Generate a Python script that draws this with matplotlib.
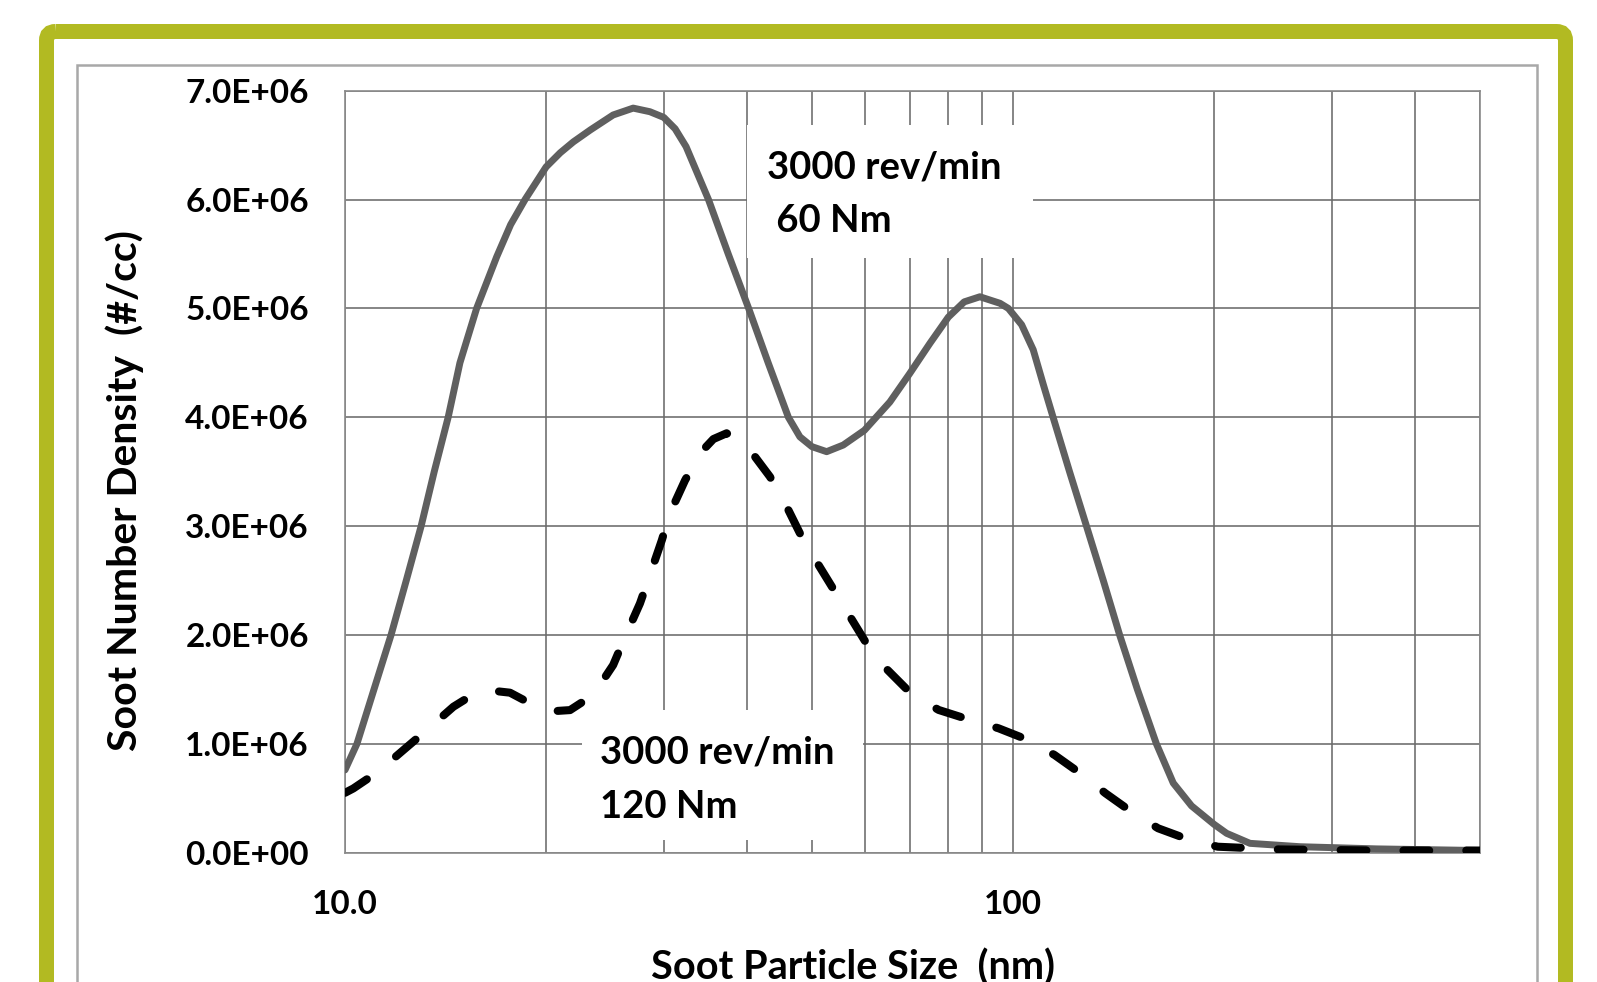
import matplotlib
matplotlib.use("Agg")
import matplotlib.pyplot as plt
from matplotlib.patches import FancyBboxPatch, Rectangle
from matplotlib.ticker import FixedLocator, NullFormatter

plt.rcParams['font.family'] = ['Lato', 'DejaVu Sans']

# particle size (nm) and soot number density (x1e6 #/cc)
size_60nm = [10.0, 10.42, 11.05, 11.72, 12.35, 13.0, 13.6, 14.27, 14.86, 15.74,
             16.87, 17.7, 18.6, 20.0, 21.0, 21.97, 23.3, 25.2, 27.0, 28.6,
             30.0, 31.2, 32.4, 35.0, 37.47, 40.2, 43.0, 46.1, 47.97, 50.0,
             52.6, 55.7, 59.9, 65.4, 70.0, 75.1, 80.0, 84.5, 89.2, 95.6,
             98.4, 103.0, 107.2, 111.0, 114.8, 121.5, 128.8, 136.5, 144.4, 153.5,
             163.9, 173.7, 185.0, 200.0, 208.8, 226.3, 268.8, 350.0, 500.0]
dens_60nm = [0.76, 1.00, 1.50, 2.00, 2.50, 3.00, 3.50, 4.00, 4.50, 5.00,
             5.475, 5.77, 6.00, 6.30, 6.43, 6.53, 6.64, 6.777, 6.84, 6.807,
             6.755, 6.65, 6.486, 6.00, 5.50, 5.00, 4.50, 4.00, 3.82, 3.73,
             3.684, 3.745, 3.88, 4.14, 4.40, 4.68, 4.92, 5.06, 5.107, 5.047,
             5.00, 4.85, 4.62, 4.30, 4.00, 3.50, 3.00, 2.50, 2.00, 1.50,
             1.00, 0.64, 0.43, 0.26, 0.178, 0.086, 0.055, 0.035, 0.02]

size_120nm = [10.0, 10.29, 11.21, 12.23, 13.26, 14.53, 15.65, 16.5, 17.66, 19.36,
              20.5, 21.72, 23.53, 25.2, 26.25, 27.64, 28.6, 29.8, 30.66, 32.28,
              34.0, 35.6, 37.26, 40.2, 43.26, 45.57, 47.97, 50.8, 54.1, 57.0,
              60.75, 64.9, 70.7, 77.4, 86.3, 95.1, 105.4, 115.4, 127.1, 137.5,
              151.5, 164.9, 183.9, 202.5, 250.0, 350.0, 500.0]
dens_120nm = [0.55, 0.59, 0.744, 0.943, 1.127, 1.341, 1.464, 1.49, 1.47, 1.34,
              1.30, 1.31, 1.449, 1.724, 1.98, 2.29, 2.55, 2.87, 3.12, 3.42,
              3.67, 3.80, 3.853, 3.715, 3.454, 3.21, 2.934, 2.673, 2.40, 2.17,
              1.892, 1.678, 1.449, 1.311, 1.219, 1.143, 1.035, 0.897, 0.714, 0.546,
              0.362, 0.224, 0.117, 0.055, 0.03, 0.02, 0.02]

y_ticks = [0, 1e6, 2e6, 3e6, 4e6, 5e6, 6e6, 7e6]
x_major = [10, 100]
x_major_labels = ["10.0", "100"]
x_minor = [20, 30, 40, 50, 60, 70, 80, 90, 200, 300, 400, 500]

W, H = 1597, 982
fig = plt.figure(figsize=(W / 100, H / 100), dpi=100)

# frame decoration (pixel coordinates)
bg = fig.add_axes([0, 0, 1, 1], zorder=-1)
bg.set_xlim(0, W)
bg.set_ylim(H, 0)
bg.axis('off')
bg.add_patch(FancyBboxPatch((46.5, 31.5), 1519, 1000,
                            boxstyle="round,pad=0,rounding_size=9",
                            fc='none', ec='#B2BA22', lw=10.8))
bg.add_patch(Rectangle((77, 65), 1460, 1000, fc='white', ec='#A8A8A8', lw=1.8))

L, R, T, B = 345, 1480, 90.7, 852.7
ax = fig.add_axes([L / W, (H - B) / H, (R - L) / W, (B - T) / H])
ax.set_facecolor('white')

ax.plot(size_60nm, [v * 1e6 for v in dens_60nm], color='#5f5f5f', lw=5.0,
        solid_joinstyle='round', solid_capstyle='round', zorder=3)
ax.plot(size_120nm, [v * 1e6 for v in dens_120nm], color='black', lw=5.8,
        linestyle=(0, (3.2, 4.6)), dash_capstyle='round', zorder=4)

ax.set_xscale('log')
ax.set_xlim(10, 500)
ax.set_ylim(0, 7e6)
ax.xaxis.set_major_locator(FixedLocator(x_major))
ax.set_xticklabels(x_major_labels)
ax.xaxis.set_minor_locator(FixedLocator(x_minor))
ax.xaxis.set_minor_formatter(NullFormatter())
ax.set_yticks(y_ticks)
ax.set_yticklabels(["{:.1E}".format(v) for v in y_ticks])

ax.grid(True, which='both', color='#6a6a6a', lw=1.15)
ax.set_axisbelow(True)
for s in ax.spines.values():
    s.set_color('#8a8a8a')
    s.set_linewidth(1.2)
ax.tick_params(which='both', length=0)
ax.tick_params(axis='y', labelsize=24, pad=26)
ax.tick_params(axis='x', labelsize=24, pad=26.5)
for lab in ax.get_xticklabels() + ax.get_yticklabels():
    lab.set_fontweight('bold')

# annotation boxes hide the grid behind the text
ax.add_patch(Rectangle((40.0, 5.463e6), 107.1 - 40.0, 6.685e6 - 5.463e6,
                       fc='white', ec='none', zorder=2))
ax.add_patch(Rectangle((22.62, 0.117e6), 59.6 - 22.62, 1.311e6 - 0.117e6,
                       fc='white', ec='none', zorder=2))
ax.text(42.8, 6.195e6, "3000 rev/min", fontsize=27.5, fontweight='bold',
        va='baseline', ha='left', zorder=5)
ax.text(42.8, 5.705e6, " 60 Nm", fontsize=27.5, fontweight='bold',
        va='baseline', ha='left', zorder=5)
ax.text(24.08, 0.824e6, "3000 rev/min", fontsize=27.5, fontweight='bold',
        va='baseline', ha='left', zorder=5)
ax.text(24.08, 0.319e6, "120 Nm", fontsize=27.5, fontweight='bold',
        va='baseline', ha='left', zorder=5)

fig.text(125 / W, 1 - 491 / H, "Soot Number Density  (#/cc)", rotation=90,
         fontsize=29.5, fontweight='bold', ha='center', va='center')
# the reference crops this label at the bottom edge
fig.text(853 / W, 1 - 980 / H, "Soot Particle Size  (nm)",
         fontsize=28.5, fontweight='bold', ha='center', va='baseline')

fig.savefig("out.png", dpi=100)
